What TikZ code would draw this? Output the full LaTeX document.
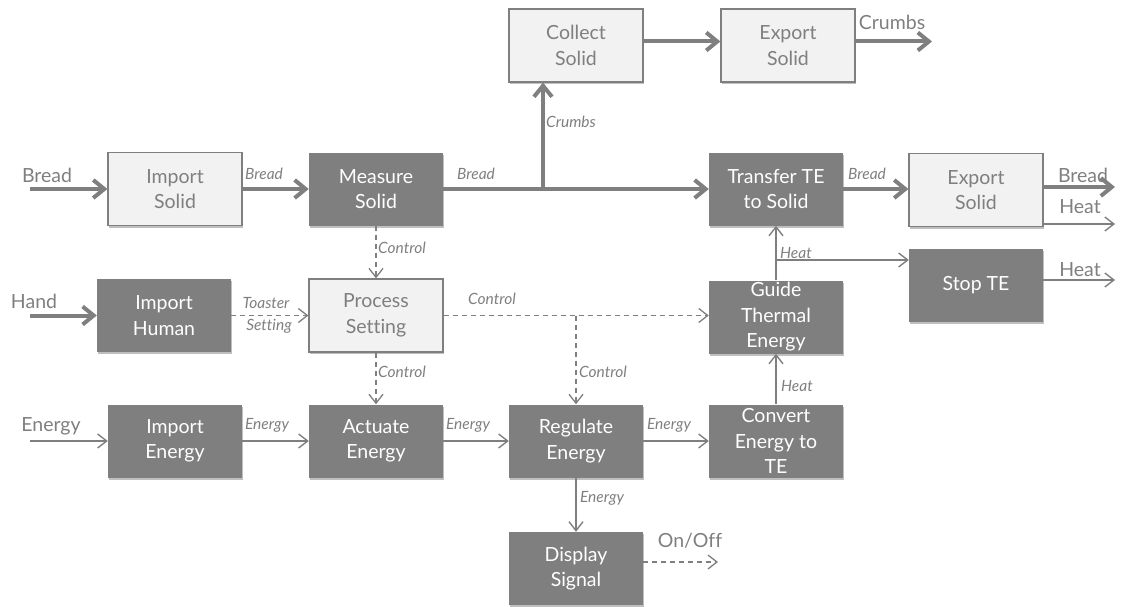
\documentclass[tikz,border=0pt]{standalone}
\usepackage{fontspec}
\setmainfont[Ligatures=NoCommon]{Lato}
\usetikzlibrary{arrows.meta,shadows}
\definecolor{ink}{RGB}{127,127,127}
\definecolor{pale}{RGB}{242,242,242}
\tikzset{
  box/.style={rectangle, minimum width=134pt, minimum height=73pt, inner sep=1pt,
    align=center, font=\fontsize{19.5}{25.5}\selectfont,
    drop shadow={shadow xshift=1.2pt, shadow yshift=-2pt, opacity=0.25, fill=black}},
  darkbox/.style={box, fill=ink, text=white},
  lightbox/.style={box, fill=pale, draw=ink, line width=1.2pt, text=ink},
  flow/.style={draw=ink, line width=4pt, -{Straight Barb[length=11pt,width=18pt]}},
  thin/.style={draw=ink, line width=1.4pt, -{Straight Barb[length=9pt,width=14pt]}},
  signal/.style={draw=ink, line width=1.3pt, dash pattern=on 5pt off 4pt,
    -{Straight Barb[length=9pt,width=14pt]}},
  lab/.style={inner sep=0pt, text=ink, font=\fontsize{15.5}{17}\selectfont\itshape},
  outlab/.style={inner sep=0pt, text=ink, font=\fontsize{19.5}{21}\selectfont},
}
\begin{document}
\begin{tikzpicture}[x=1pt, y=-1pt]
\useasboundingbox (0,0) rectangle (1121,607);

% function blocks
\node[lightbox] (colS)  at (576,45.5)  {Collect\\Solid};
\node[lightbox] (expC)  at (788,45.5)  {Export\\Solid};
\node[lightbox] (impS)  at (175,189)   {Import\\Solid};
\node[darkbox]  (meaS)  at (376,189)   {Measure\\Solid};
\node[darkbox]  (trn)   at (776,189)   {Transfer TE\\to Solid};
\node[lightbox] (expB)  at (976,190)   {Export\\Solid};
\node[darkbox]  (stop)  at (976,285.5) {Stop TE};
\node[darkbox]  (impH)  at (164,315.5) {Import\\Human};
\node[lightbox] (proc)  at (376,315.5) {Process\\Setting};
\node[darkbox]  (guide) at (776,317)   {Guide\\Thermal\\Energy};
\node[darkbox]  (impE)  at (175,441)   {Import\\Energy};
\node[darkbox]  (act)   at (376,441)   {Actuate\\Energy};
\node[darkbox]  (reg)   at (576,441)   {Regulate\\Energy};
\node[darkbox]  (conv)  at (776,441)   {Convert\\Energy to\\TE};
\node[darkbox]  (disp)  at (576,568.5) {Display\\Signal};

% free ends and branch points
\coordinate (inBread)  at (30,189);
\coordinate (inHand)   at (30,315.5);
\coordinate (inEnergy) at (30,441);
\coordinate (brCrumb)  at (543,189);
\coordinate (brHeat)   at (776,260);
\coordinate (brCtrl)   at (576,315.5);
\coordinate (outCrumb) at (932,41.5);
\coordinate (outBread) at (1115,187);
\coordinate (outHeatA) at (1115,224);
\coordinate (outHeatB) at (1115,280);
\coordinate (outSig)   at (718,562);

% material flows
\draw[flow] (inBread) -- (impS.west);
\draw[flow] (impS.east) -- (meaS.west);
\draw[flow] (meaS.east) -- (trn.west);
\draw[flow] (brCrumb) -- (brCrumb |- colS.south);
\draw[flow] ([yshift=4pt]colS.east) -- ([yshift=4pt]expC.west);
\draw[flow] ([yshift=4pt]expC.east) -- (outCrumb);
\draw[flow] (trn.east) -- (expB.west |- trn.east);
\draw[flow] (expB.east |- outBread) -- (outBread);
\draw[flow] (inHand) -- (impH.west);

% energy flows
\draw[thin] (expB.east |- outHeatA) -- (outHeatA);
\draw[thin] (guide.north) -- (trn.south);
\draw[thin] (brHeat) -- (stop.west |- brHeat);
\draw[thin] (stop.east |- outHeatB) -- (outHeatB);
\draw[thin] (conv.north) -- (guide.south);
\draw[thin] (inEnergy) -- (impE.west);
\draw[thin] (impE.east) -- (act.west);
\draw[thin] (act.east) -- (reg.west);
\draw[thin] (reg.east) -- (conv.west);
\draw[thin] (reg.south) -- (disp.north);

% signals
\draw[signal] (impH.east) -- (proc.west);
\draw[signal] (meaS.south) -- (proc.north);
\draw[signal] (proc.east) -- (guide.west |- proc.east);
\draw[signal] (brCtrl) -- (reg.north);
\draw[signal] (proc.south) -- (act.north);
\draw[signal] (disp.east |- outSig) -- (outSig);

% flow names
\node[outlab] (tBreadIn)  at (47,175)   {Bread};
\node[outlab] (tHandIn)   at (34,301)   {Hand};
\node[outlab] (tEnergyIn) at (51,426)   {Energy};
\node[outlab] (tCrumbOut) at (892,22)   {Crumbs};
\node[outlab] (tBreadOut) at (1083,175) {Bread};
\node[outlab] (tHeatOutA) at (1080,207) {Heat};
\node[outlab] (tHeatOutB) at (1080,270) {Heat};
\node[outlab] (tOnOff)    at (690,541)  {On/Off};

\node[lab] (lBreadA)  at (264,174) {Bread};
\node[lab] (lBreadB)  at (476,174) {Bread};
\node[lab] (lBreadC)  at (867,174) {Bread};
\node[lab] (lCrumbs)  at (571,122) {Crumbs};
\node[lab] (lCtrlA)   at (402,248) {Control};
\node[lab] (lToaster) at (266,303) {Toaster};
\node[lab] (lSetting) at (269,326) {Setting};
\node[lab] (lCtrlB)   at (492,299) {Control};
\node[lab] (lCtrlC)   at (402,372) {Control};
\node[lab] (lCtrlD)   at (603,372) {Control};
\node[lab] (lHeatA)   at (796,253) {Heat};
\node[lab] (lHeatB)   at (797,386) {Heat};
\node[lab] (lEnA)     at (267,425) {Energy};
\node[lab] (lEnB)     at (468,425) {Energy};
\node[lab] (lEnC)     at (669,425) {Energy};
\node[lab] (lEnD)     at (602,498) {Energy};
\end{tikzpicture}
\end{document}
